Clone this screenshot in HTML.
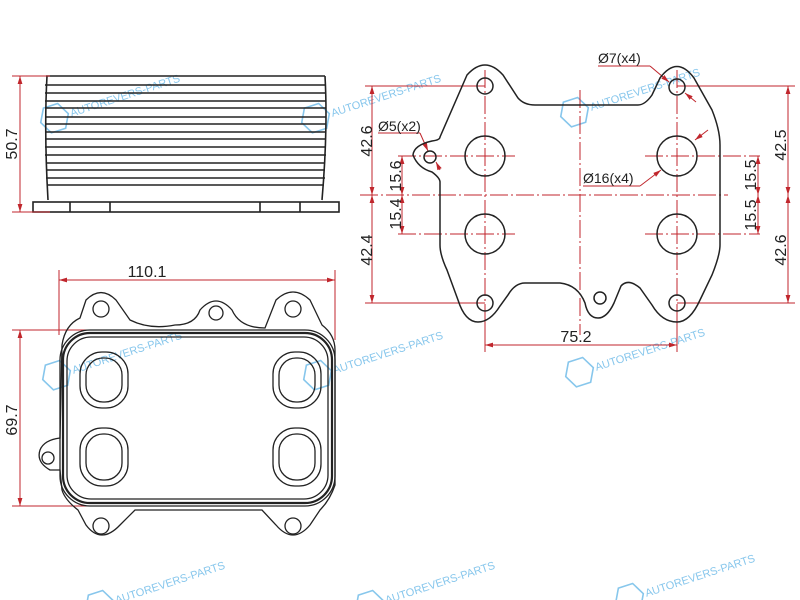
<!DOCTYPE html>
<html><head><meta charset="utf-8"><style>html,body{margin:0;padding:0;background:#fff}svg{display:block}</style></head>
<body>
<svg width="800" height="600" viewBox="0 0 800 600" xmlns="http://www.w3.org/2000/svg" font-family="Liberation Sans, sans-serif">
<defs>
<marker id="a" viewBox="0 0 10 10" refX="10" refY="5" markerWidth="8" markerHeight="8" orient="auto-start-reverse"><path d="M0,2 L10,5 L0,8 z" fill="#c0262c"/></marker>
<g id="wm" fill="none" stroke="#5fb4e6" opacity="0.75">
<polygon points="-8,-13 7,-13 14,0 7,13 -8,13 -15,0" stroke-width="1.6"/>
<text x="16" y="4" font-size="11" fill="#5fb4e6" stroke="none">AUTOREVERS-PARTS</text>
</g>
</defs>

<g transform="translate(55,118) rotate(-18)"><use href="#wm"/></g>
<g transform="translate(316,118) rotate(-18)"><use href="#wm"/></g>
<g transform="translate(575,112) rotate(-18)"><use href="#wm"/></g>
<g transform="translate(57,375) rotate(-18)"><use href="#wm"/></g>
<g transform="translate(318,375) rotate(-18)"><use href="#wm"/></g>
<g transform="translate(580,372) rotate(-18)"><use href="#wm"/></g>
<g transform="translate(100,605) rotate(-18)"><use href="#wm"/></g>
<g transform="translate(370,605) rotate(-18)"><use href="#wm"/></g>
<g transform="translate(630,598) rotate(-18)"><use href="#wm"/></g>

<!-- SIDE VIEW -->
<g stroke="#222" fill="none" stroke-width="1.6">
<path d="M47,76 Q44,130 48,200 M325,76 Q328,130 322,200"/>
<g stroke-width="1.4">
<line x1="46" y1="76" x2="325" y2="76"/><line x1="45" y1="85" x2="326" y2="85"/><line x1="45" y1="93" x2="326" y2="93"/><line x1="45" y1="101" x2="326" y2="101"/><line x1="45" y1="108" x2="326" y2="108"/><line x1="45" y1="117" x2="326" y2="117"/><line x1="45" y1="124" x2="326" y2="124"/><line x1="45" y1="132" x2="326" y2="132"/><line x1="45" y1="139" x2="326" y2="139"/><line x1="45" y1="147" x2="326" y2="147"/><line x1="45" y1="155" x2="326" y2="155"/><line x1="46" y1="163" x2="325" y2="163"/><line x1="46" y1="170" x2="325" y2="170"/><line x1="46" y1="178" x2="325" y2="178"/><line x1="47" y1="185" x2="324" y2="185"/>
</g>
<rect x="33" y="202" width="306" height="10"/>
<path d="M70,202V212 M110,202V212 M260,202V212 M300,202V212"/>
</g>
<g stroke="#c0262c" stroke-width="1" fill="none">
<path d="M12,76H50 M12,212H50"/>
<line x1="20" y1="76" x2="20" y2="212" marker-start="url(#a)" marker-end="url(#a)"/>
</g>
<text transform="translate(17,144) rotate(-90)" text-anchor="middle" font-size="16" fill="#222">50.7</text>

<!-- FRONT VIEW -->
<g stroke="#c0262c" stroke-width="1" fill="none">
<path d="M59,270V335 M335,270V340 M12,330H100 M12,506H100"/>
<line x1="59" y1="280" x2="335" y2="280" marker-start="url(#a)" marker-end="url(#a)"/>
<line x1="20" y1="330" x2="20" y2="506" marker-start="url(#a)" marker-end="url(#a)"/>
</g>
<text x="147" y="277" text-anchor="middle" font-size="16" fill="#222">110.1</text>
<text transform="translate(17,420) rotate(-90)" text-anchor="middle" font-size="16" fill="#222">69.7</text>
<g stroke="#222" fill="none" stroke-width="1.3">
<path d="M62,345 Q65,325 80,318 L86,300 Q101,285 116,300 L130,320 Q150,330 175,325 Q195,325 200,310 Q216,292 232,310 Q240,328 265,328 L276,300 Q293,284 310,300 L322,325 Q335,335 335,350 L335,485 Q330,500 320,510 L310,525 Q293,545 276,525 L262,510 L135,510 L120,525 Q101,545 86,525 L78,510 Q65,500 62,490 L60,470 L50,470 Q36,462 40,450 Q44,440 60,438 Z"/>
<rect x="60" y="330" width="275" height="176" rx="30"/>
<rect x="63" y="333" width="269" height="170" rx="27" stroke-width="2.2"/>
<rect x="67" y="337" width="261" height="162" rx="24"/>
<circle cx="101" cy="309" r="8"/><circle cx="216" cy="313" r="7"/><circle cx="293" cy="309" r="8"/>
<circle cx="101" cy="526" r="8"/><circle cx="293" cy="526" r="8"/><circle cx="48" cy="458" r="6"/>
<rect x="80" y="352" width="48" height="56" rx="22"/><rect x="86" y="358" width="36" height="44" rx="17"/>
<rect x="273" y="352" width="48" height="56" rx="22"/><rect x="279" y="358" width="36" height="44" rx="17"/>
<rect x="80" y="428" width="48" height="58" rx="22"/><rect x="86" y="434" width="36" height="46" rx="17"/>
<rect x="273" y="428" width="48" height="58" rx="22"/><rect x="279" y="434" width="36" height="46" rx="17"/>
</g>

<!-- PLATE VIEW -->
<g stroke="#c0262c" stroke-width="1" fill="none" stroke-dasharray="18 3 2 3">
<line x1="360" y1="195" x2="728" y2="195"/>
<line x1="580" y1="90" x2="580" y2="335"/>
<line x1="485" y1="70" x2="485" y2="320"/>
<line x1="677" y1="70" x2="677" y2="320"/>
<line x1="398" y1="156" x2="515" y2="156"/><line x1="645" y1="156" x2="760" y2="156"/>
<line x1="398" y1="234" x2="515" y2="234"/><line x1="645" y1="234" x2="760" y2="234"/>
</g>
<g stroke="#c0262c" stroke-width="1" fill="none">
<path d="M365,86H485 M365,303H485 M677,86H795 M677,303H795 M485,305V352 M677,305V352"/>
<line x1="372" y1="86" x2="372" y2="195" marker-start="url(#a)" marker-end="url(#a)"/>
<line x1="372" y1="195" x2="372" y2="303" marker-start="url(#a)" marker-end="url(#a)"/>
<line x1="402" y1="156" x2="402" y2="195" marker-start="url(#a)" marker-end="url(#a)"/>
<line x1="402" y1="195" x2="402" y2="234" marker-start="url(#a)" marker-end="url(#a)"/>
<line x1="788" y1="86" x2="788" y2="195" marker-start="url(#a)" marker-end="url(#a)"/>
<line x1="788" y1="195" x2="788" y2="303" marker-start="url(#a)" marker-end="url(#a)"/>
<line x1="758" y1="156" x2="758" y2="195" marker-start="url(#a)" marker-end="url(#a)"/>
<line x1="758" y1="195" x2="758" y2="234" marker-start="url(#a)" marker-end="url(#a)"/>
<line x1="485" y1="345" x2="677" y2="345" marker-start="url(#a)" marker-end="url(#a)"/>
<path d="M598,66H650"/><line x1="650" y1="66" x2="669" y2="82" marker-end="url(#a)"/>
<line x1="696" y1="102" x2="685" y2="93" marker-end="url(#a)"/>
<path d="M378,133H420"/><line x1="420" y1="133" x2="428" y2="151" marker-end="url(#a)"/>
<line x1="440" y1="170" x2="436" y2="162" marker-end="url(#a)"/>
<path d="M583,186H640"/><line x1="640" y1="186" x2="661" y2="170" marker-end="url(#a)"/>
<line x1="708" y1="130" x2="695" y2="140" marker-end="url(#a)"/>
</g>
<g stroke="#222" fill="none" stroke-width="1.5">
<path d="M440,137 L467,75 Q485,55 503,75 L518,98 Q524,105 535,105 L638,105 Q645,105 652,95 L660,78 Q677,55 694,78 L712,110 Q720,130 720,145 L720,245 Q720,255 712,275 L700,300 Q690,322 677,322 Q662,322 652,305 L640,288 Q628,278 621,286 L614,303 Q607,318 598,318 Q588,318 585,303 Q578,285 560,283 L525,283 Q515,283 508,295 L500,306 Q490,322 478,322 Q465,322 458,300 L447,270 Q440,255 440,245 L440,182 Q440,178 432,172 Q418,168 413,155 Q414,145 432,141 Q440,140 440,137 Z"/>
<circle cx="485" cy="86" r="8"/><circle cx="677" cy="87" r="8"/><circle cx="485" cy="303" r="8"/><circle cx="677" cy="303" r="8"/>
<circle cx="430" cy="157" r="6"/><circle cx="600" cy="298" r="6"/>
<circle cx="485" cy="156" r="20"/><circle cx="677" cy="156" r="20"/><circle cx="485" cy="234" r="20"/><circle cx="677" cy="234" r="20"/>
</g>
<g font-size="16" fill="#222">
<text transform="translate(372,141) rotate(-90)" text-anchor="middle">42.6</text>
<text transform="translate(372,250) rotate(-90)" text-anchor="middle">42.4</text>
<text transform="translate(401,176) rotate(-90)" text-anchor="middle">15.6</text>
<text transform="translate(401,214) rotate(-90)" text-anchor="middle">15.4</text>
<text transform="translate(786,145) rotate(-90)" text-anchor="middle">42.5</text>
<text transform="translate(786,250) rotate(-90)" text-anchor="middle">42.6</text>
<text transform="translate(756,175) rotate(-90)" text-anchor="middle">15.5</text>
<text transform="translate(756,215) rotate(-90)" text-anchor="middle">15.5</text>
<text x="576" y="342" text-anchor="middle">75.2</text>
<text x="598" y="63" font-size="14">Ø7(x4)</text>
<text x="378" y="131" font-size="14">Ø5(x2)</text>
<text x="583" y="183" font-size="14">Ø16(x4)</text>
</g>
</svg>
</body></html>
